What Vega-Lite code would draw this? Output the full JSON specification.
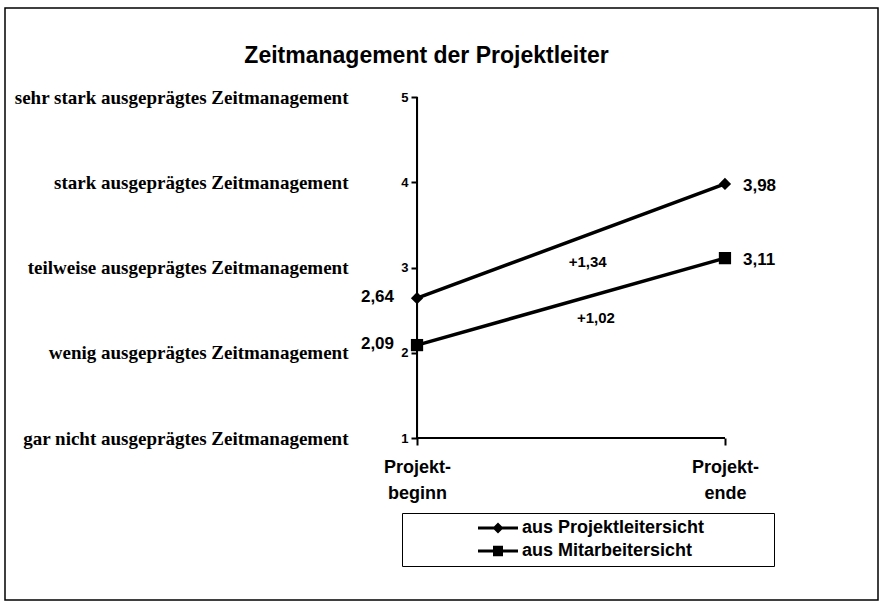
{
  "$schema": "https://vega.github.io/schema/vega-lite/v6.json",
  "width": 873,
  "height": 592,
  "autosize": {"type": "none"},
  "padding": {"left": 5, "top": 8, "right": 4, "bottom": 3},
  "background": "white",
  "title": {
    "text": "Zeitmanagement der Projektleiter",
    "font": "Liberation Sans",
    "fontSize": 23,
    "fontWeight": "bold",
    "color": "black",
    "anchor": "middle",
    "baseline": "bottom",
    "offset": -83,
    "dx": -15
  },
  "config": {
    "view": {"stroke": "black", "strokeWidth": 1.5},
    "locale": {
      "number": {"decimal": ",", "thousands": ".", "grouping": [3], "currency": ["", " €"]}
    }
  },
  "datasets": {
    "main": [
      {"reihe": "aus Projektleitersicht", "zeitpunkt": "Projektbeginn", "t": 0, "wert": 2.64},
      {"reihe": "aus Projektleitersicht", "zeitpunkt": "Projektende", "t": 1, "wert": 3.98},
      {"reihe": "aus Mitarbeitersicht", "zeitpunkt": "Projektbeginn", "t": 0, "wert": 2.09},
      {"reihe": "aus Mitarbeitersicht", "zeitpunkt": "Projektende", "t": 1, "wert": 3.11}
    ],
    "diffs": [
      {"reihe": "aus Projektleitersicht", "diff": 1.34, "t": 0.554, "wert": 3.064},
      {"reihe": "aus Mitarbeitersicht", "diff": 1.02, "t": 0.581, "wert": 2.413}
    ],
    "levels": [
      {"stufe": 1, "name": "gar nicht ausgeprägtes Zeitmanagement"},
      {"stufe": 2, "name": "wenig ausgeprägtes Zeitmanagement"},
      {"stufe": 3, "name": "teilweise ausgeprägtes Zeitmanagement"},
      {"stufe": 4, "name": "stark ausgeprägtes Zeitmanagement"},
      {"stufe": 5, "name": "sehr stark ausgeprägtes Zeitmanagement"}
    ]
  },
  "layer": [
    {
      "layer": [
        {
          "data": {"name": "main"},
          "mark": {"type": "line", "color": "black", "strokeWidth": 3.5},
          "encoding": {
            "x": {
              "field": "t", "type": "quantitative",
              "scale": {"domain": [-1.338, 1.497], "nice": false, "zero": false},
              "axis": {
                "orient": "bottom", "offset": -162, "values": [0, 1],
                "labelExpr": "datum.value == 0 ? ['Projekt-', 'beginn'] : ['Projekt-', 'ende']",
                "domain": false, "grid": false, "ticks": true, "tickSize": 7, "tickWidth": 2, "tickColor": "black",
                "labelFont": "Liberation Sans", "labelFontSize": 18, "labelFontWeight": "bold", "labelColor": "black",
                "labelPadding": 13, "labelLineHeight": 26, "labelFlush": false, "labelOverlap": false, "title": null
              }
            },
            "y": {
              "field": "wert", "type": "quantitative",
              "scale": {"domain": [-0.9, 6.044], "nice": false, "zero": false},
              "axis": {
                "orient": "left", "offset": -412, "values": [1, 2, 3, 4, 5], "format": "d",
                "domain": false, "grid": false, "tickSize": 6, "tickWidth": 2, "tickColor": "black",
                "labelFont": "Liberation Sans", "labelFontSize": 13, "labelFontWeight": "bold", "labelColor": "black",
                "labelPadding": 3, "labelOverlap": false, "title": null
              }
            },
            "detail": {"field": "reihe"}
          }
        },
        {
          "data": {"name": "main"},
          "mark": {"type": "rule", "color": "black", "strokeWidth": 2},
          "encoding": {
            "x": {
              "datum": 0, "type": "quantitative",
              "scale": {"domain": [-1.338, 1.497], "nice": false, "zero": false},
              "axis": {
                "orient": "bottom", "offset": -162, "values": [0, 1],
                "labelExpr": "datum.value == 0 ? ['Projekt-', 'beginn'] : ['Projekt-', 'ende']",
                "domain": false, "grid": false, "ticks": true, "tickSize": 7, "tickWidth": 2, "tickColor": "black",
                "labelFont": "Liberation Sans", "labelFontSize": 18, "labelFontWeight": "bold", "labelColor": "black",
                "labelPadding": 13, "labelLineHeight": 26, "labelFlush": false, "labelOverlap": false, "title": null
              }
            },
            "x2": {"datum": 1},
            "y": {
              "datum": 1, "type": "quantitative",
              "scale": {"domain": [-0.9, 6.044], "nice": false, "zero": false},
              "axis": {
                "orient": "left", "offset": -412, "values": [1, 2, 3, 4, 5], "format": "d",
                "domain": false, "grid": false, "tickSize": 6, "tickWidth": 2, "tickColor": "black",
                "labelFont": "Liberation Sans", "labelFontSize": 13, "labelFontWeight": "bold", "labelColor": "black",
                "labelPadding": 3, "labelOverlap": false, "title": null
              }
            }
          }
        },
        {
          "data": {"name": "main"},
          "mark": {"type": "rule", "color": "black", "strokeWidth": 2},
          "encoding": {
            "x": {
              "datum": 0, "type": "quantitative",
              "scale": {"domain": [-1.338, 1.497], "nice": false, "zero": false},
              "axis": {
                "orient": "bottom", "offset": -162, "values": [0, 1],
                "labelExpr": "datum.value == 0 ? ['Projekt-', 'beginn'] : ['Projekt-', 'ende']",
                "domain": false, "grid": false, "ticks": true, "tickSize": 7, "tickWidth": 2, "tickColor": "black",
                "labelFont": "Liberation Sans", "labelFontSize": 18, "labelFontWeight": "bold", "labelColor": "black",
                "labelPadding": 13, "labelLineHeight": 26, "labelFlush": false, "labelOverlap": false, "title": null
              }
            },
            "y": {
              "datum": 1, "type": "quantitative",
              "scale": {"domain": [-0.9, 6.044], "nice": false, "zero": false},
              "axis": {
                "orient": "left", "offset": -412, "values": [1, 2, 3, 4, 5], "format": "d",
                "domain": false, "grid": false, "tickSize": 6, "tickWidth": 2, "tickColor": "black",
                "labelFont": "Liberation Sans", "labelFontSize": 13, "labelFontWeight": "bold", "labelColor": "black",
                "labelPadding": 3, "labelOverlap": false, "title": null
              }
            },
            "y2": {"datum": 5}
          }
        },
        {
          "data": {"name": "main"},
          "mark": {"type": "point", "filled": true, "color": "black", "opacity": 1, "size": 150},
          "encoding": {
            "x": {
              "field": "t", "type": "quantitative",
              "scale": {"domain": [-1.338, 1.497], "nice": false, "zero": false},
              "axis": {
                "orient": "bottom", "offset": -162, "values": [0, 1],
                "labelExpr": "datum.value == 0 ? ['Projekt-', 'beginn'] : ['Projekt-', 'ende']",
                "domain": false, "grid": false, "ticks": true, "tickSize": 7, "tickWidth": 2, "tickColor": "black",
                "labelFont": "Liberation Sans", "labelFontSize": 18, "labelFontWeight": "bold", "labelColor": "black",
                "labelPadding": 13, "labelLineHeight": 26, "labelFlush": false, "labelOverlap": false, "title": null
              }
            },
            "y": {
              "field": "wert", "type": "quantitative",
              "scale": {"domain": [-0.9, 6.044], "nice": false, "zero": false},
              "axis": {
                "orient": "left", "offset": -412, "values": [1, 2, 3, 4, 5], "format": "d",
                "domain": false, "grid": false, "tickSize": 6, "tickWidth": 2, "tickColor": "black",
                "labelFont": "Liberation Sans", "labelFontSize": 13, "labelFontWeight": "bold", "labelColor": "black",
                "labelPadding": 3, "labelOverlap": false, "title": null
              }
            },
            "shape": {"condition": {"test": "datum.reihe === 'aus Projektleitersicht'", "value": "diamond"}, "value": "square"}
          }
        },
        {
          "data": {"name": "main"},
          "mark": {"type": "point", "filled": true, "color": "black", "opacity": 0, "size": 100},
          "encoding": {
            "x": {
              "field": "t", "type": "quantitative",
              "scale": {"domain": [-1.338, 1.497], "nice": false, "zero": false},
              "axis": {
                "orient": "bottom", "offset": -162, "values": [0, 1],
                "labelExpr": "datum.value == 0 ? ['Projekt-', 'beginn'] : ['Projekt-', 'ende']",
                "domain": false, "grid": false, "ticks": true, "tickSize": 7, "tickWidth": 2, "tickColor": "black",
                "labelFont": "Liberation Sans", "labelFontSize": 18, "labelFontWeight": "bold", "labelColor": "black",
                "labelPadding": 13, "labelLineHeight": 26, "labelFlush": false, "labelOverlap": false, "title": null
              }
            },
            "y": {
              "field": "wert", "type": "quantitative",
              "scale": {"domain": [-0.9, 6.044], "nice": false, "zero": false},
              "axis": {
                "orient": "left", "offset": -412, "values": [1, 2, 3, 4, 5], "format": "d",
                "domain": false, "grid": false, "tickSize": 6, "tickWidth": 2, "tickColor": "black",
                "labelFont": "Liberation Sans", "labelFontSize": 13, "labelFontWeight": "bold", "labelColor": "black",
                "labelPadding": 3, "labelOverlap": false, "title": null
              }
            },
            "shape": {
              "field": "reihe", "type": "nominal",
              "scale": {
                "domain": ["aus Projektleitersicht", "aus Mitarbeitersicht"],
                "range": ["M-4,-0.3H4V0.3H-4ZM-1.1,0L0,-1.1L1.1,0L0,1.1ZM54,0", "M-4,-0.3H4V0.3H-4ZM-1,-1.05H1V1.05H-1ZM54,0"]
              },
              "legend": {
                "title": null, "orient": "none", "legendX": 397, "legendY": 505,
                "strokeColor": "black", "fillColor": "white", "padding": 6, "rowPadding": 5,
                "symbolSize": 100, "symbolStrokeWidth": 0, "symbolFillColor": "black", "symbolStrokeColor": "black", "symbolOpacity": 1,
                "symbolOffset": 81, "labelOffset": 15,
                "labelFont": "Liberation Sans", "labelFontSize": 18, "labelFontWeight": "bold", "labelColor": "black", "labelLimit": 600
              }
            }
          }
        },
        {
          "data": {"name": "main"},
          "transform": [{"filter": "datum.t == 0"}],
          "mark": {"type": "text", "align": "right", "baseline": "middle", "dx": -23, "dy": -1, "font": "Liberation Sans", "fontSize": 17, "fontWeight": "bold", "color": "black"},
          "encoding": {
            "x": {
              "field": "t", "type": "quantitative",
              "scale": {"domain": [-1.338, 1.497], "nice": false, "zero": false},
              "axis": {
                "orient": "bottom", "offset": -162, "values": [0, 1],
                "labelExpr": "datum.value == 0 ? ['Projekt-', 'beginn'] : ['Projekt-', 'ende']",
                "domain": false, "grid": false, "ticks": true, "tickSize": 7, "tickWidth": 2, "tickColor": "black",
                "labelFont": "Liberation Sans", "labelFontSize": 18, "labelFontWeight": "bold", "labelColor": "black",
                "labelPadding": 13, "labelLineHeight": 26, "labelFlush": false, "labelOverlap": false, "title": null
              }
            },
            "y": {
              "field": "wert", "type": "quantitative",
              "scale": {"domain": [-0.9, 6.044], "nice": false, "zero": false},
              "axis": {
                "orient": "left", "offset": -412, "values": [1, 2, 3, 4, 5], "format": "d",
                "domain": false, "grid": false, "tickSize": 6, "tickWidth": 2, "tickColor": "black",
                "labelFont": "Liberation Sans", "labelFontSize": 13, "labelFontWeight": "bold", "labelColor": "black",
                "labelPadding": 3, "labelOverlap": false, "title": null
              }
            },
            "text": {"field": "wert", "type": "quantitative", "format": ".2f"}
          }
        },
        {
          "data": {"name": "main"},
          "transform": [{"filter": "datum.t == 1"}],
          "mark": {"type": "text", "align": "left", "baseline": "middle", "dx": 18, "dy": 2, "font": "Liberation Sans", "fontSize": 17, "fontWeight": "bold", "color": "black"},
          "encoding": {
            "x": {
              "field": "t", "type": "quantitative",
              "scale": {"domain": [-1.338, 1.497], "nice": false, "zero": false},
              "axis": {
                "orient": "bottom", "offset": -162, "values": [0, 1],
                "labelExpr": "datum.value == 0 ? ['Projekt-', 'beginn'] : ['Projekt-', 'ende']",
                "domain": false, "grid": false, "ticks": true, "tickSize": 7, "tickWidth": 2, "tickColor": "black",
                "labelFont": "Liberation Sans", "labelFontSize": 18, "labelFontWeight": "bold", "labelColor": "black",
                "labelPadding": 13, "labelLineHeight": 26, "labelFlush": false, "labelOverlap": false, "title": null
              }
            },
            "y": {
              "field": "wert", "type": "quantitative",
              "scale": {"domain": [-0.9, 6.044], "nice": false, "zero": false},
              "axis": {
                "orient": "left", "offset": -412, "values": [1, 2, 3, 4, 5], "format": "d",
                "domain": false, "grid": false, "tickSize": 6, "tickWidth": 2, "tickColor": "black",
                "labelFont": "Liberation Sans", "labelFontSize": 13, "labelFontWeight": "bold", "labelColor": "black",
                "labelPadding": 3, "labelOverlap": false, "title": null
              }
            },
            "text": {"field": "wert", "type": "quantitative", "format": ".2f"}
          }
        },
        {
          "data": {"name": "diffs"},
          "mark": {"type": "text", "align": "center", "baseline": "middle", "font": "Liberation Sans", "fontSize": 15, "fontWeight": "bold", "color": "black"},
          "encoding": {
            "x": {
              "field": "t", "type": "quantitative",
              "scale": {"domain": [-1.338, 1.497], "nice": false, "zero": false},
              "axis": {
                "orient": "bottom", "offset": -162, "values": [0, 1],
                "labelExpr": "datum.value == 0 ? ['Projekt-', 'beginn'] : ['Projekt-', 'ende']",
                "domain": false, "grid": false, "ticks": true, "tickSize": 7, "tickWidth": 2, "tickColor": "black",
                "labelFont": "Liberation Sans", "labelFontSize": 18, "labelFontWeight": "bold", "labelColor": "black",
                "labelPadding": 13, "labelLineHeight": 26, "labelFlush": false, "labelOverlap": false, "title": null
              }
            },
            "y": {
              "field": "wert", "type": "quantitative",
              "scale": {"domain": [-0.9, 6.044], "nice": false, "zero": false},
              "axis": {
                "orient": "left", "offset": -412, "values": [1, 2, 3, 4, 5], "format": "d",
                "domain": false, "grid": false, "tickSize": 6, "tickWidth": 2, "tickColor": "black",
                "labelFont": "Liberation Sans", "labelFontSize": 13, "labelFontWeight": "bold", "labelColor": "black",
                "labelPadding": 3, "labelOverlap": false, "title": null
              }
            },
            "text": {"field": "diff", "type": "quantitative", "format": "+.2f"}
          }
        }
      ]
    },
    {
      "data": {"name": "levels"},
      "mark": {"type": "point", "opacity": 0},
      "encoding": {
        "y": {
          "field": "stufe", "type": "quantitative",
          "scale": {"domain": [-0.9, 6.044], "nice": false, "zero": false},
          "axis": {
            "orient": "left", "offset": -343, "values": [1, 2, 3, 4, 5],
            "labelExpr": "datum.value == 1 ? 'gar nicht ausgeprägtes Zeitmanagement' : datum.value == 2 ? 'wenig ausgeprägtes Zeitmanagement' : datum.value == 3 ? 'teilweise ausgeprägtes Zeitmanagement' : datum.value == 4 ? 'stark ausgeprägtes Zeitmanagement' : 'sehr stark ausgeprägtes Zeitmanagement'",
            "domain": false, "grid": false, "ticks": false, "tickSize": 0, "labelPadding": 0,
            "labelFont": "Liberation Serif", "labelFontSize": 19, "labelFontWeight": "bold", "labelColor": "black",
            "labelLimit": 600, "labelOverlap": false, "title": null
          }
        }
      }
    }
  ],
  "resolve": {"scale": {"y": "independent"}, "axis": {"y": "independent"}}
}
